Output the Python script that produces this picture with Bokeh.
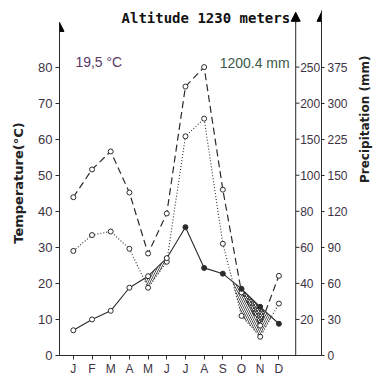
import numpy as np
from bokeh.plotting import figure
from bokeh.models import Range1d, LinearAxis, FixedTicker, Label, Arrow, NormalHead
from bokeh.core.properties import value
from bokeh.embed import file_html
from bokeh.resources import INLINE

# ---------------- data ----------------
months = ["J", "F", "M", "A", "M", "J", "J", "A", "S", "O", "N", "D"]
month_pos = [1, 2, 3, 4, 5, 6, 7, 8, 9, 10, 11, 12]
temperature = [7.0, 10.0, 12.4, 18.8, 22.0, 27.0, 35.6, 24.3, 22.7, 18.5, 13.5, 8.8]
# precipitation curves, read in temperature-axis units
precip_dashed = [43.9, 51.6, 56.6, 45.2, 28.3, 39.4, 74.6, 80.0, 46.0, 17.5, 8.3, 22.1]   # 2 mm / 1 degC scale
precip_dotted = [29.0, 33.4, 34.4, 29.6, 18.8, 26.0, 60.8, 65.7, 31.0, 11.0, 5.2, 14.4]   # 3 mm / 1 degC scale
temp_ticks = [0, 10, 20, 30, 40, 50, 60, 70, 80]
temp_labels = ["0", "10", "20", "30", "40", "50", "60", "70", "80"]
p1_ticks = [10, 20, 30, 40, 50, 60, 70, 80]
p1_labels = ["20", "40", "60", "80", "100", "150", "200", "250"]
p2_ticks = [0, 10, 20, 30, 40, 50, 60, 70, 80]
p2_labels = ["0", "30", "60", "90", "120", "150", "225", "300", "375"]
title_text = "Altitude 1230 meters"
mean_temp_text = "19,5 °C"
annual_prec_text = "1200.4 mm"
temp_unit_text = "T°C"
prec_axis_text = "Precipitation (mm)"

INK = "#2b2b2b"
NUM = "#3d3344"

p = figure(width=381, height=378, output_backend="svg", toolbar_location=None,
           x_range=Range1d(0.26, 14.28), y_range=Range1d(0, 95.7),
           min_border_left=59, min_border_right=57, min_border_top=10, min_border_bottom=21)
p.outline_line_color = None
p.xgrid.visible = False
p.ygrid.visible = False
p.background_fill_color = "white"

# ---- axes ----
xa = p.xaxis[0]
xa.ticker = FixedTicker(ticks=month_pos)
xa.major_label_overrides = {m: lab for m, lab in zip(month_pos, months)}
xa.major_tick_out = 4
xa.major_tick_in = 0
xa.minor_tick_out = 0
xa.minor_tick_in = 0
xa.major_label_standoff = 2
xa.major_label_text_font = "Liberation Sans"
xa.major_label_text_font_size = "12px"
xa.major_label_text_color = NUM
xa.axis_line_color = INK
xa.major_tick_line_color = INK

ya = p.yaxis[0]
ya.ticker = FixedTicker(ticks=temp_ticks)
ya.major_label_overrides = {t: lab for t, lab in zip(temp_ticks, temp_labels)}
ya.bounds = (0, 92.4)
ya.major_tick_out = 4
ya.major_tick_in = 0
ya.minor_tick_out = 0
ya.minor_tick_in = 0
ya.major_label_standoff = 3
ya.major_label_text_font = "Liberation Sans"
ya.major_label_text_font_size = "13px"
ya.major_label_text_color = NUM
ya.axis_line_color = INK
ya.major_tick_line_color = INK
ya.axis_label = "Temperature(°C)"
ya.axis_label_text_font = "DejaVu Sans"
ya.axis_label_text_font_style = "bold"
ya.axis_label_text_font_size = "13px"
ya.axis_label_text_color = "#222222"
ya.axis_label_standoff = 9

ra = LinearAxis(ticker=FixedTicker(ticks=p2_ticks),
                major_label_overrides={t: lab for t, lab in zip(p2_ticks, p2_labels)})
ra.major_tick_out = 3
ra.major_tick_in = 0
ra.minor_tick_out = 0
ra.minor_tick_in = 0
ra.major_label_standoff = 3
ra.major_label_text_font = "Liberation Sans"
ra.major_label_text_font_size = "12px"
ra.major_label_text_color = NUM
ra.axis_line_color = INK
ra.major_tick_line_color = INK
ra.axis_label = prec_axis_text
ra.axis_label_text_font = "DejaVu Sans"
ra.axis_label_text_font_style = "bold"
ra.axis_label_text_font_size = "12px"
ra.axis_label_text_color = "#222222"
ra.axis_label_standoff = 14
try:
    ra.axis_label_orientation = np.pi / 2
except Exception:
    pass
p.add_layout(ra, "right")

# inner precipitation axis (2 mm per degree)
AX1 = 12.9
p.segment(x0=[AX1], y0=[0], x1=[AX1], y1=[94.6], line_color=INK, line_width=1)
p.segment(x0=[AX1] * len(p1_ticks), y0=p1_ticks, x1=[AX1 + 0.2] * len(p1_ticks), y1=p1_ticks,
          line_color=INK, line_width=1)
p.text(x=[AX1 + 0.24] * len(p1_ticks), y=p1_ticks, text=p1_labels,
       text_font=value("Liberation Sans"), text_font_size="12px", text_color=NUM,
       text_align="left", text_baseline="middle")

# arrow heads on the axes
for x_pos, ytop in [(0.26, 92.4), (AX1, 95.2), (14.28, 95.2)]:
    p.add_layout(Arrow(end=NormalHead(size=9, fill_color="black", line_color="black"),
                       x_start=x_pos, y_start=ytop - 3, x_end=x_pos, y_end=ytop,
                       line_color=INK, line_width=1))

# ---- dry-season hatching ----
xs = np.linspace(1, 12, 2201)
t_i = np.interp(xs, month_pos, temperature)
d3_i = np.interp(xs, month_pos, precip_dotted)
d2_i = np.interp(xs, month_pos, precip_dashed)
p.varea(x=xs, y1=np.minimum(t_i, d3_i), y2=t_i, fill_color=None, fill_alpha=0,
        hatch_pattern="\\", hatch_color=INK, hatch_scale=4, hatch_weight=0.8)
p.varea(x=xs, y1=np.minimum(t_i, d2_i), y2=t_i, fill_color=None, fill_alpha=0,
        hatch_pattern="x", hatch_color=INK, hatch_scale=3, hatch_weight=0.8)

# ---- curves ----
p.line(month_pos, precip_dashed, line_color=INK, line_width=1.2, line_dash="7 4")
p.line(month_pos, precip_dotted, line_color=INK, line_width=1.1, line_dash="1 2")
p.line(month_pos, temperature, line_color=INK, line_width=1.1)

p.scatter(month_pos, precip_dashed, size=5, marker="circle", fill_color="white", line_color=INK, line_width=1)
p.scatter(month_pos, precip_dotted, size=5, marker="circle", fill_color="white", line_color=INK, line_width=1)
p.scatter(month_pos[:6], temperature[:6], size=5, marker="circle", fill_color="white", line_color=INK, line_width=1)
p.scatter(month_pos[6:], temperature[6:], size=5, marker="circle", fill_color=INK, line_color=INK, line_width=1)

# ---- texts ----
p.add_layout(Label(x=8.09, y=93.5, text=title_text, text_align="center", text_baseline="middle",
                   text_font="DejaVu Sans Mono", text_font_style="bold", text_font_size="14px",
                   text_color="#111111"))
p.add_layout(Label(x=1.11, y=81.4, text=mean_temp_text, text_align="left", text_baseline="middle",
                   text_font="Liberation Sans", text_font_size="14px", text_color="#5a3a6a"))
p.add_layout(Label(x=8.83, y=81.1, text=annual_prec_text, text_align="left", text_baseline="middle",
                   text_font="Liberation Sans", text_font_size="14px", text_color="#3a5a4a"))
p.add_layout(Label(x=-0.43, y=85.2, text=temp_unit_text, text_align="center", text_baseline="middle",
                   text_font="Liberation Sans", text_font_size="14px", text_color="#4a3a5a"))

open("out.html", "w").write(file_html(p, INLINE))
